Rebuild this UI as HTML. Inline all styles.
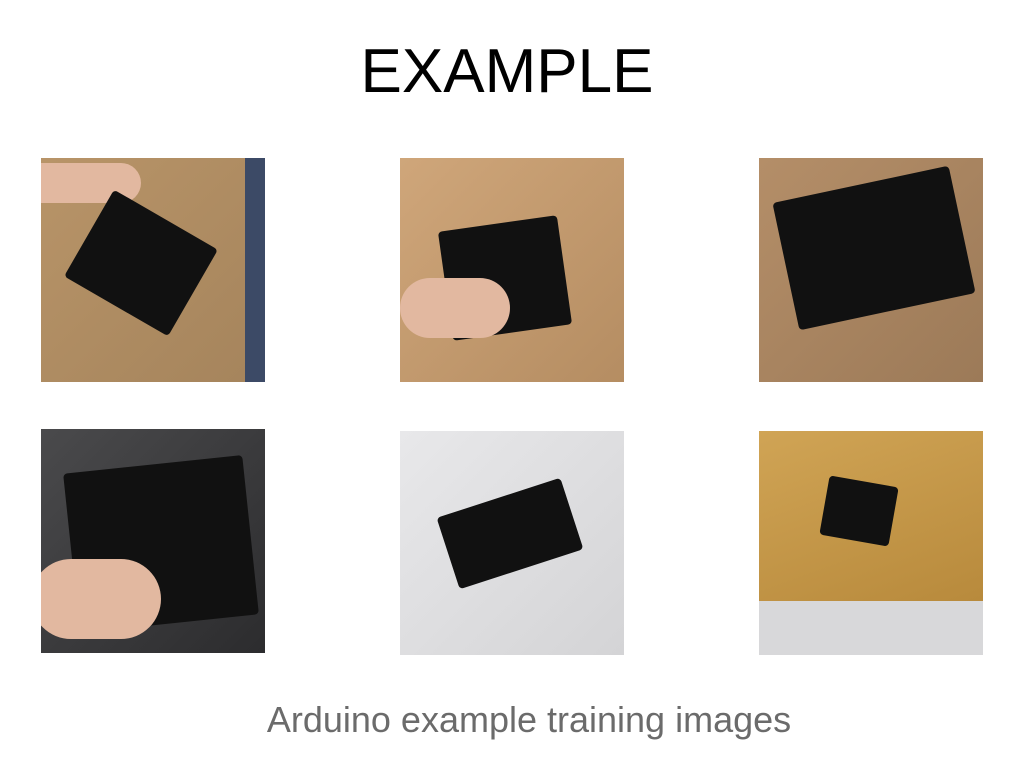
<!DOCTYPE html>
<html><head><meta charset="utf-8"><style>
body{margin:0;width:1024px;height:768px;background:#fff;position:relative;overflow:hidden;font-family:"Liberation Sans",sans-serif}
.t{position:absolute;left:0;width:1014px;text-align:center;top:36px;font-size:62px;color:#000}
.c{position:absolute;left:0;width:1058px;text-align:center;top:699px;font-size:36px;color:#6b6b6b}
.im{position:absolute;width:224px;height:224px;overflow:hidden}
.b{position:absolute;background:#111;border-radius:4px}
.h{position:absolute;background:#e2b8a0;border-radius:40px}
</style></head><body>
<div class="t">EXAMPLE</div>
<div class="im" style="left:41px;top:158px;background:linear-gradient(135deg,#b89468,#a5845c)">
<div style="position:absolute;right:0;top:0;width:20px;height:224px;background:#3c4a66"></div>
<div class="h" style="left:-20px;top:5px;width:120px;height:40px"></div>
<div class="b" style="left:40px;top:55px;width:120px;height:100px;transform:rotate(30deg)"></div>
</div>
<div class="im" style="left:400px;top:158px;background:linear-gradient(135deg,#cfa67a,#b58d62)">
<div class="b" style="left:45px;top:65px;width:120px;height:110px;transform:rotate(-8deg)"></div>
<div class="h" style="left:0;top:120px;width:110px;height:60px"></div>
</div>
<div class="im" style="left:759px;top:158px;background:linear-gradient(135deg,#b48e68,#9c7a58)">
<div class="b" style="left:25px;top:25px;width:180px;height:130px;transform:rotate(-12deg)"></div>
</div>
<div class="im" style="left:41px;top:429px;background:linear-gradient(135deg,#4a4a4c,#2c2c2e)">
<div class="b" style="left:30px;top:35px;width:180px;height:160px;transform:rotate(-6deg)"></div>
<div class="h" style="left:-10px;top:130px;width:130px;height:80px"></div>
</div>
<div class="im" style="left:400px;top:431px;background:linear-gradient(135deg,#e8e8ea,#d4d4d6)">
<div class="b" style="left:45px;top:65px;width:130px;height:75px;transform:rotate(-18deg)"></div>
</div>
<div class="im" style="left:759px;top:431px;background:#d8d8da">
<div style="position:absolute;left:0;top:0;width:224px;height:170px;background:linear-gradient(160deg,#d0a455,#b88a3c)"></div>
<div class="b" style="left:65px;top:50px;width:70px;height:60px;transform:rotate(10deg)"></div>
</div>
<div class="c">Arduino example training images</div>
</body></html>
